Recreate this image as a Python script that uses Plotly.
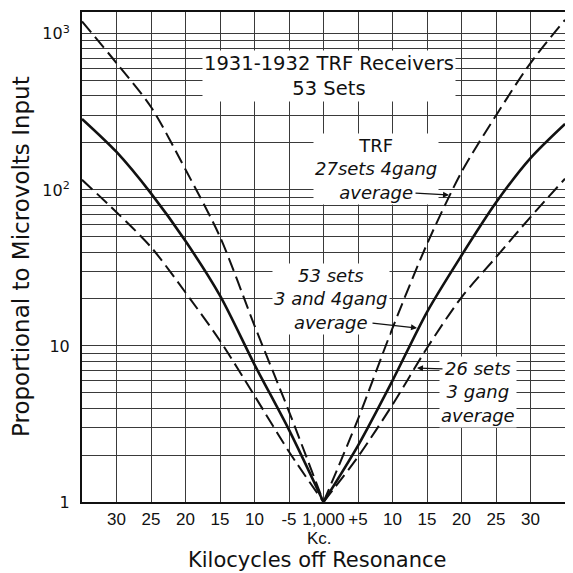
import plotly.graph_objects as go

# ---------------- data ----------------
kc_left = [-35, -30, -25, -20, -15, -10, -5, 0]
kc_right = [0, 5, 10, 15, 20, 25, 30, 35]

# TRF 27 sets 4 gang average (steep dashed)
gang4_27_left = [1200, 650, 340, 135, 50, 13.5, 3.8, 1]
gang4_27_right = [1, 3.4, 13, 45, 130, 300, 650, 1230]
# 53 sets 3 and 4 gang average (solid)
avg_53_left = [285, 175, 95, 47, 21, 7.6, 2.9, 1]
avg_53_right = [1, 2.3, 6.0, 16.5, 38, 83, 160, 265]
# 26 sets 3 gang average (outer dashed)
gang3_26_left = [116, 72, 43, 22, 10.8, 4.8, 2.1, 1]
gang3_26_right = [1, 1.95, 4.2, 9.7, 20.5, 37, 67, 118]

x_tick_vals = [-30, -25, -20, -15, -10, -5, 0, 5, 10, 15, 20, 25, 30]
x_tick_text = ["30", "25", "20", "15", "10", "-5", "1,000", "+5",
               "10", "15", "20", "25", "30"]
y_tick_vals = [1, 10, 100, 1000]
y_tick_text = ["1", "10", "10<sup>2</sup>", "10<sup>3</sup>"]

# ---------------- figure ----------------
# the page body has an 8px default margin, so the figure is drawn 8px in
OFF = 8
W, H = 573 - OFF, 573 - OFF
PL, PR, PT, PB = 82, 565, 12, 502          # plot area in window pixels
ML, MR, MT, MB = PL - OFF, 573 - PR, PT - OFF, (H + OFF) - PB
PW, PH = PR - PL, PB - PT
INK = "#111111"
GRID = "#3a3a3a"
FONT = "DejaVu Sans"
TICKFONT = "Liberation Sans, Arial, sans-serif"


def P(px, py):
    return (px - PL) / PW, (PB - py) / PH


fig = go.Figure()

series = [
    (kc_left, gang4_27_left, kc_right, gang4_27_right, "14px,6px", 2.0),
    (kc_left, avg_53_left, kc_right, avg_53_right, "solid", 2.6),
    (kc_left, gang3_26_left, kc_right, gang3_26_right, "14px,6px", 2.0),
]
for xl, yl, xr, yr, dash, w in series:
    for xs, ys in ((xl, yl), (xr, yr)):
        fig.add_trace(go.Scatter(
            x=xs, y=ys, mode="lines",
            line=dict(color=INK, width=w, dash=dash, shape="spline", smoothing=0.8),
            hoverinfo="skip", showlegend=False,
        ))

minor_vals = [m * 10 ** e for e in range(4) for m in range(2, 10)]

fig.update_layout(
    width=W, height=H,
    margin=dict(l=ML, r=MR, t=MT, b=MB, autoexpand=False),
    paper_bgcolor="white", plot_bgcolor="white",
    showlegend=False,
    xaxis=dict(
        range=[-35, 35], tickmode="array", tickvals=x_tick_vals, ticktext=x_tick_text,
        tickangle=0,
        showgrid=True, gridcolor=GRID, gridwidth=1, zeroline=False,
        showline=True, linecolor=INK, linewidth=2, mirror=True,
        ticks="outside", ticklen=1, tickcolor="rgba(0,0,0,0)",
        tickfont=dict(family=TICKFONT, size=17, color=INK),
        fixedrange=True,
    ),
    yaxis=dict(
        type="log", range=[0, 3.14], tickmode="array",
        tickvals=y_tick_vals, ticktext=y_tick_text,
        showgrid=True, gridcolor=GRID, gridwidth=1, zeroline=False,
        minor=dict(tickmode="array", tickvals=minor_vals, showgrid=True,
                   gridcolor=GRID, gridwidth=1, ticks=""),
        showline=True, linecolor=INK, linewidth=2, mirror=True,
        ticks="outside", ticklen=7, tickcolor="rgba(0,0,0,0)",
        tickfont=dict(family=FONT, size=16, color=INK),
        fixedrange=True,
    ),
)

ann = []


def text(px, py, s, size=18, angle=0, bg="white", family=FONT):
    x, y = P(px, py)
    ann.append(dict(
        xref="paper", yref="paper", x=x, y=y, text=s, showarrow=False,
        xanchor="center", yanchor="middle", textangle=angle, align="center",
        font=dict(family=family, size=size, color=INK),
        bgcolor=bg, borderpad=1,
    ))


def arrow(tail, tip):
    x, y = P(*tip)
    ann.append(dict(
        xref="paper", yref="paper", x=x, y=y, text="", showarrow=True,
        ax=tail[0] - tip[0], ay=tail[1] - tip[1],
        arrowhead=2, arrowsize=1, arrowwidth=1.2, arrowcolor=INK,
    ))


# header
text(329, 76, "1931-1932 TRF Receivers<br>53 Sets", size=19.5)
# 27 sets
text(376, 169, "TRF<br><i>27sets 4gang</i><br><i>average</i>", size=18)
arrow((414, 193), (449, 195))
# 53 sets
text(331, 299, "<i>53 sets</i><br><i>3 and 4gang</i><br><i>average</i>", size=18)
arrow((371, 323), (417, 328))
# 26 sets
text(478, 392, "<i>26 sets</i><br><i>3 gang</i><br><i>average</i>", size=18)
arrow((444, 369), (417, 368))

# axis titles
text(319, 538, "Kc.", size=17, bg="rgba(0,0,0,0)", family=TICKFONT)
text(317, 560, "Kilocycles off Resonance", size=21, bg="rgba(0,0,0,0)")
text(21, 257, "Proportional to Microvolts Input", size=23, angle=-90, bg="rgba(0,0,0,0)")

fig.update_layout(annotations=ann)

fig.write_html("out.html")
